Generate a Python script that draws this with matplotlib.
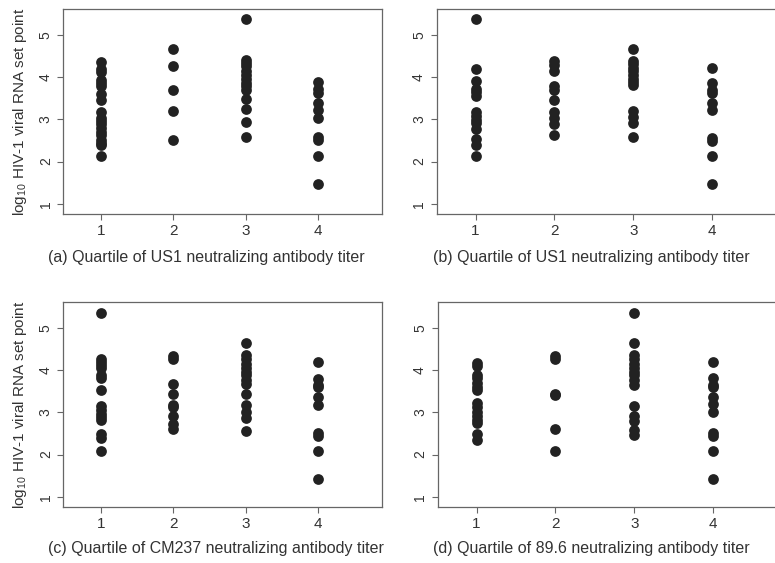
import matplotlib
matplotlib.use("Agg")
import matplotlib.pyplot as plt

plt.rcParams['font.family'] = ['Liberation Sans', 'DejaVu Sans']
plt.rcParams['mathtext.fontset'] = 'custom'
plt.rcParams['mathtext.rm'] = 'Liberation Sans'
plt.rcParams['mathtext.it'] = 'Liberation Sans'
plt.rcParams['mathtext.default'] = 'regular'

# ---- data: log10 HIV-1 viral RNA set point by quartile ----
quartiles = [1, 2, 3, 4]

a_q1 = [4.35, 4.2, 4.12, 3.92, 3.85, 3.78, 3.6, 3.45, 3.18, 3.02, 2.95, 2.88, 2.8, 2.7, 2.62, 2.52, 2.45, 2.38, 2.13]
a_q2 = [4.67, 4.27, 3.69, 3.19, 2.50]
a_q3 = [5.38, 4.4, 4.32, 4.25, 4.15, 4.05, 3.95, 3.85, 3.78, 3.7, 3.47, 3.24, 2.93, 2.58]
a_q4 = [3.87, 3.72, 3.62, 3.38, 3.22, 3.02, 2.58, 2.5, 2.12, 1.47]

b_q1 = [5.36, 4.19, 3.91, 3.72, 3.65, 3.56, 3.18, 3.08, 2.98, 2.9, 2.77, 2.53, 2.39, 2.13]
b_q2 = [4.37, 4.28, 4.13, 3.78, 3.7, 3.46, 3.18, 3.04, 2.89, 2.62]
b_q3 = [4.65, 4.38, 4.3, 4.22, 4.13, 4.05, 3.95, 3.87, 3.8, 3.2, 3.05, 2.92, 2.58]
b_q4 = [4.22, 3.85, 3.7, 3.63, 3.38, 3.22, 2.55, 2.49, 2.12, 1.47]

c_q1 = [5.34, 4.27, 4.2, 4.12, 4.05, 3.87, 3.8, 3.53, 3.15, 3.05, 2.95, 2.88, 2.82, 2.49, 2.4, 2.09]
c_q2 = [4.34, 4.27, 3.66, 3.42, 3.18, 3.12, 2.9, 2.72, 2.6]
c_q3 = [4.64, 4.35, 4.25, 4.15, 4.05, 3.95, 3.87, 3.77, 3.67, 3.44, 3.18, 3.0, 2.86, 2.55]
c_q4 = [4.19, 3.79, 3.65, 3.6, 3.36, 3.18, 2.52, 2.45, 2.09, 1.42]

d_q1 = [4.17, 4.1, 3.88, 3.8, 3.7, 3.6, 3.52, 3.22, 3.12, 3.0, 2.9, 2.82, 2.74, 2.48, 2.35]
d_q2 = [4.34, 4.27, 3.44, 3.4, 2.61, 2.09]
d_q3 = [5.34, 4.63, 4.35, 4.25, 4.15, 4.05, 3.95, 3.87, 3.76, 3.65, 3.15, 2.92, 2.8, 2.58, 2.47]
d_q4 = [4.19, 3.8, 3.65, 3.6, 3.36, 3.2, 3.0, 2.52, 2.45, 2.09, 1.42]

captions = [
    "(a) Quartile of US1 neutralizing antibody titer",
    "(b) Quartile of US1 neutralizing antibody titer",
    "(c) Quartile of CM237 neutralizing antibody titer",
    "(d) Quartile of 89.6 neutralizing antibody titer",
]
ylabel_text = "log$_{10}$ HIV-1 viral RNA set point"
yticks = [1, 2, 3, 4, 5]

panels = [
    [a_q1, a_q2, a_q3, a_q4],
    [b_q1, b_q2, b_q3, b_q4],
    [c_q1, c_q2, c_q3, c_q4],
    [d_q1, d_q2, d_q3, d_q4],
]

W, H = 775, 563
fig = plt.figure(figsize=(W / 100, H / 100), dpi=100)

# axes boxes in pixels: left, right, top, bottom
boxes = [
    (63.3, 382.3, 9.3, 214.0),
    (436.5, 782.5, 9.3, 214.0),
    (63.3, 382.3, 302.3, 507.0),
    (437.5, 783.5, 302.3, 507.0),
]
xlims = [(0.478, 4.89), (0.505, 4.89), (0.478, 4.89), (0.505, 4.89)]
cap_pos = [(48, 258), (433, 258), (48, 548), (433, 548)]

frame_col = '#666666'
text_col = '#333333'
dot_col = '#222222'

for i, (groups, box) in enumerate(zip(panels, boxes)):
    l, r, t, b = box
    ax = fig.add_axes([l / W, 1 - b / H, (r - l) / W, (b - t) / H])
    for q, vals in zip(quartiles, groups):
        ax.scatter([q] * len(vals), vals, s=60, color=dot_col, linewidths=0, zorder=3)
    ax.set_xlim(*xlims[i])
    ax.set_ylim(0.76, 5.6)
    ax.set_xticks(quartiles)
    ax.set_yticks(yticks)
    ax.set_xticklabels([str(q) for q in quartiles], fontsize=11, color=text_col)
    ax.set_yticklabels([str(v) for v in yticks], fontsize=10, color=text_col,
                       rotation=90, va='center')
    ax.tick_params(axis='both', direction='out', length=4, width=0.8, color=frame_col)
    ax.tick_params(axis='x', pad=3.5)
    ax.tick_params(axis='y', pad=3.5)
    for sp in ax.spines.values():
        sp.set_color(frame_col)
        sp.set_linewidth(0.9)
    fig.text(cap_pos[i][0] / W, 1 - cap_pos[i][1] / H, captions[i],
             fontsize=11.5, color=text_col, ha='left', va='center')
    if i % 2 == 0:
        fig.text(20 / W, 1 - ((t + b) / 2) / H, ylabel_text, rotation=90,
                 fontsize=11, color=text_col, ha='center', va='center')

fig.savefig('out.png', dpi=100)
